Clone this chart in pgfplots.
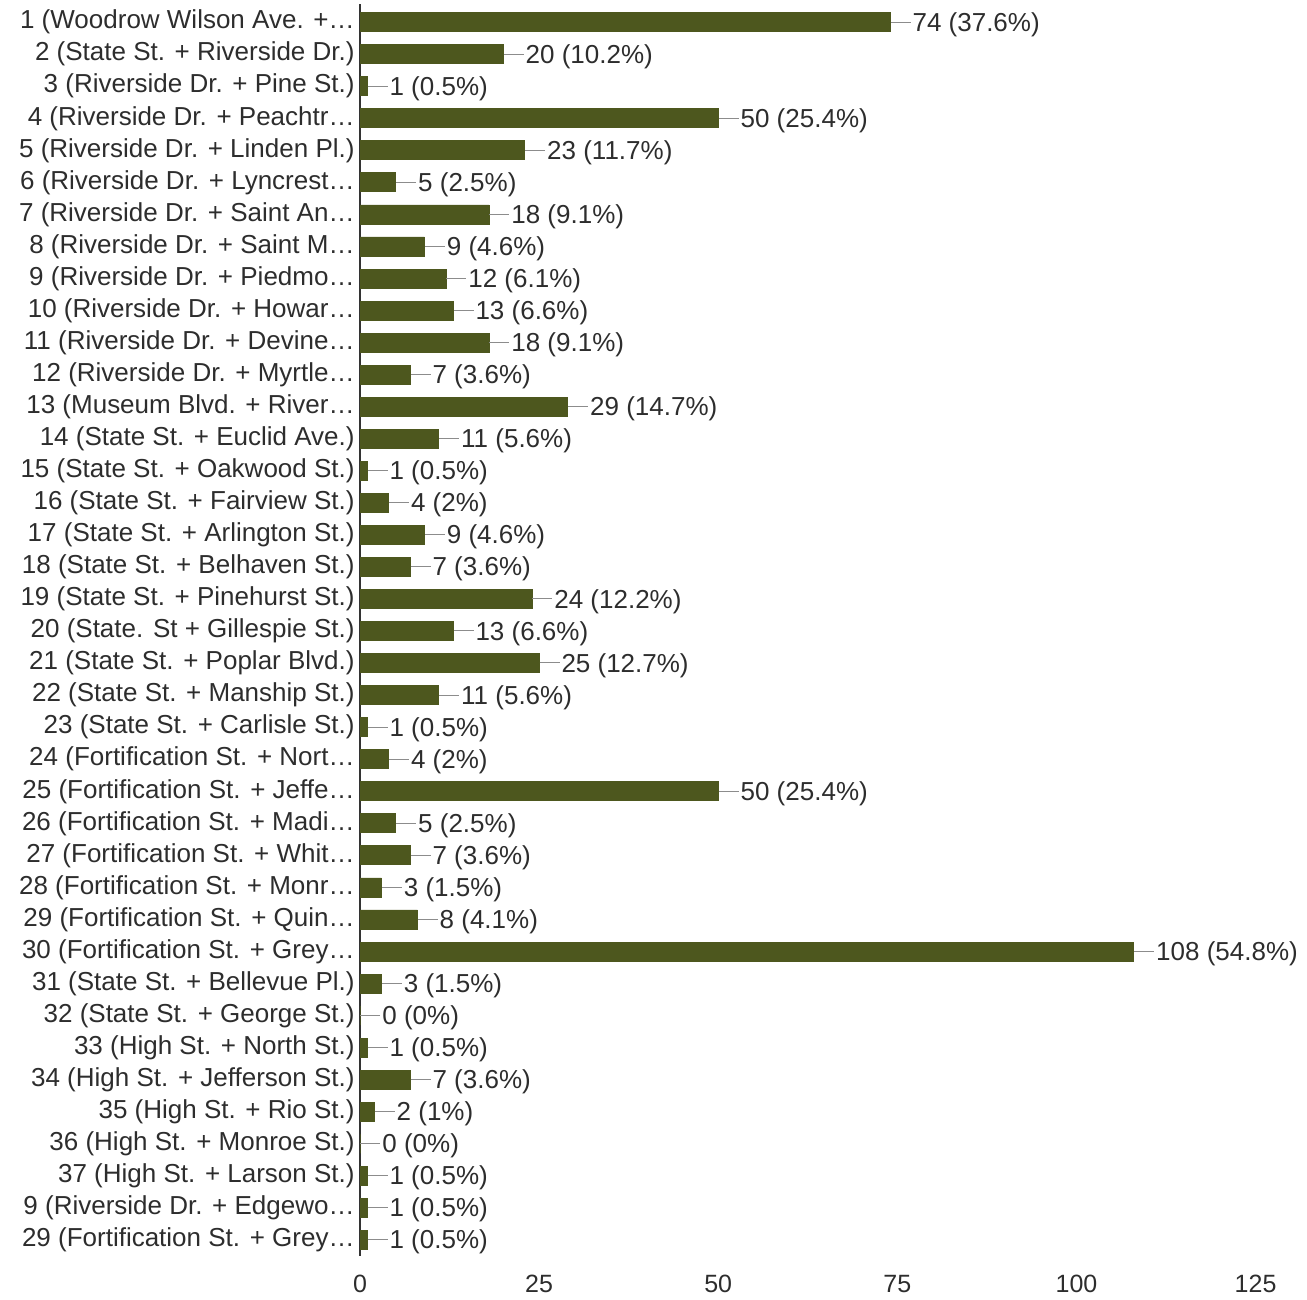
\documentclass[border=0pt]{standalone}
\usepackage{fontspec}
\setmainfont{Liberation Sans}
\usepackage{pgfplots}
\usepackage{pgfplotstable}
\pgfplotsset{compat=1.18}
\definecolor{barolive}{RGB}{77,87,30}
\definecolor{txt}{RGB}{45,45,45}

% rows from bottom (y=0) to top (y=38); n = count, lab = count (percent)
\pgfplotstableread{
y n lab
0 1 1~(0.5\%)
1 1 1~(0.5\%)
2 1 1~(0.5\%)
3 0 0~(0\%)
4 2 2~(1\%)
5 7 7~(3.6\%)
6 1 1~(0.5\%)
7 0 0~(0\%)
8 3 3~(1.5\%)
9 108 108~(54.8\%)
10 8 8~(4.1\%)
11 3 3~(1.5\%)
12 7 7~(3.6\%)
13 5 5~(2.5\%)
14 50 50~(25.4\%)
15 4 4~(2\%)
16 1 1~(0.5\%)
17 11 11~(5.6\%)
18 25 25~(12.7\%)
19 13 13~(6.6\%)
20 24 24~(12.2\%)
21 7 7~(3.6\%)
22 9 9~(4.6\%)
23 4 4~(2\%)
24 1 1~(0.5\%)
25 11 11~(5.6\%)
26 29 29~(14.7\%)
27 7 7~(3.6\%)
28 18 18~(9.1\%)
29 13 13~(6.6\%)
30 12 12~(6.1\%)
31 9 9~(4.6\%)
32 18 18~(9.1\%)
33 5 5~(2.5\%)
34 23 23~(11.7\%)
35 50 50~(25.4\%)
36 1 1~(0.5\%)
37 20 20~(10.2\%)
38 74 74~(37.6\%)
}\counts

\begin{document}
\begin{tikzpicture}
\useasboundingbox (0,0) rectangle (653.5pt,650pt);
\begin{axis}[
    at={(180pt,22pt)}, anchor=south west,
    scale only axis,
    width=465.7pt, height=625.9pt,
    xbar, bar width=9.5pt,
    xmin=0, xmax=130,
    ymin=-0.5, ymax=38.56,
    axis x line*=bottom, axis y line*=left,
    x axis line style={draw=none},
    y axis line style={draw=black!80, line width=0.7pt, -},
    major tick length=0pt,
    xtick={0,25,50,75,100,125},
    ytick={0,...,38},
    yticklabels={
      {29 (Fortification St. + Grey…},
      {9 (Riverside Dr. + Edgewo…},
      {37 (High St. + Larson St.)},
      {36 (High St. + Monroe St.)},
      {35 (High St. + Rio St.)},
      {34 (High St. + Jefferson St.)},
      {33 (High St. + North St.)},
      {32 (State St. + George St.)},
      {31 (State St. + Bellevue Pl.)},
      {30 (Fortification St. + Grey…},
      {29 (Fortification St. + Quin…},
      {28 (Fortification St. + Monr…},
      {27 (Fortification St. + Whit…},
      {26 (Fortification St. + Madi…},
      {25 (Fortification St. + Jeffe…},
      {24 (Fortification St. + Nort…},
      {23 (State St. + Carlisle St.)},
      {22 (State St. + Manship St.)},
      {21 (State St. + Poplar Blvd.)},
      {20 (State. St + Gillespie St.)},
      {19 (State St. + Pinehurst St.)},
      {18 (State St. + Belhaven St.)},
      {17 (State St. + Arlington St.)},
      {16 (State St. + Fairview St.)},
      {15 (State St. + Oakwood St.)},
      {14 (State St. + Euclid Ave.)},
      {13 (Museum Blvd. + River…},
      {12 (Riverside Dr. + Myrtle…},
      {11 (Riverside Dr. + Devine…},
      {10 (Riverside Dr. + Howar…},
      {9 (Riverside Dr. + Piedmo…},
      {8 (Riverside Dr. + Saint M…},
      {7 (Riverside Dr. + Saint An…},
      {6 (Riverside Dr. + Lyncrest…},
      {5 (Riverside Dr. + Linden Pl.)},
      {4 (Riverside Dr. + Peachtr…},
      {3 (Riverside Dr. + Pine St.)},
      {2 (State St. + Riverside Dr.)},
      {1 (Woodrow Wilson Ave. +…}
    },
    yticklabel style={font=\fontsize{13}{15}\selectfont, text=txt, inner sep=0pt, xshift=-2.5pt},
    xticklabel style={font=\fontsize{12.5}{15}\selectfont, text=txt, yshift=-6pt},
    /pgf/number format/assume math mode=true,
    clip=false,
    point meta=explicit symbolic,
    nodes near coords={\textcolor{black!45}{\rule[4.3pt]{10pt}{0.5pt}}\hspace{1pt}\pgfplotspointmeta},
    every node near coord/.append style={anchor=base west, inner sep=0pt, yshift=-4.5pt,
      font=\fontsize{13}{15}\selectfont, text=txt},
]
\addplot[fill=barolive, draw=barolive] table[x=n, y=y, meta=lab] {\counts};
\end{axis}
\end{tikzpicture}
\end{document}
